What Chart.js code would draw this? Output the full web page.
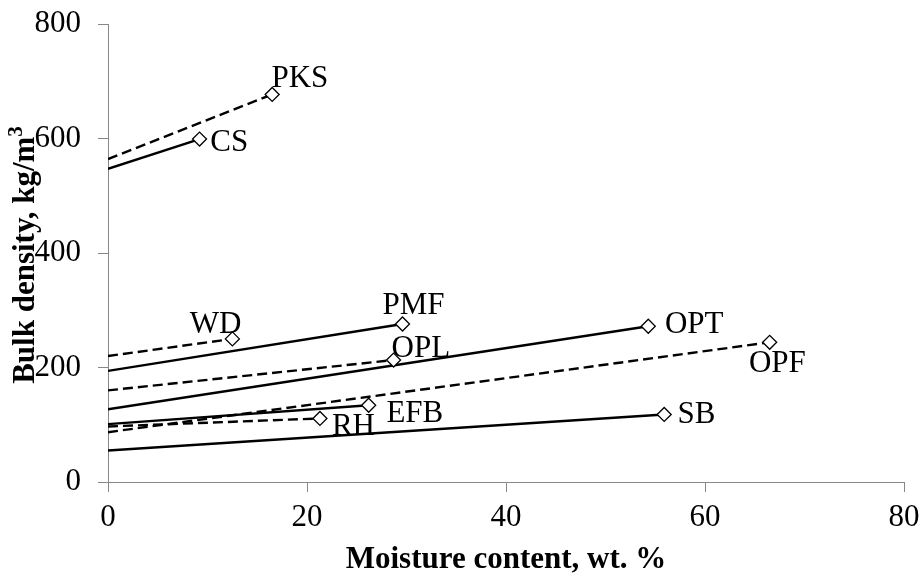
<!DOCTYPE html>
<html><head><meta charset="utf-8">
<script src="https://cdn.jsdelivr.net/npm/chart.js@4.4.1/dist/chart.umd.min.js"></script>
<style>html,body{margin:0;padding:0;background:#fff}canvas{display:block}</style>
</head><body>
<canvas id="c" width="920" height="575"></canvas>
<script>
// ---- data ----
const materials  = ['CS', 'PKS', 'WD', 'PMF', 'OPL', 'OPT', 'OPF', 'EFB', 'RH', 'SB'];
const moisture   = [9.2, 16.5, 12.5, 29.6, 28.7, 54.3, 66.5, 26.2, 21.3, 55.9];   // wt. %
const density    = [599, 677, 250, 276, 213, 272, 244, 134, 111, 118];          // kg/m3
const lineAtZero = [547, 564, 220, 194, 160, 127, 87, 101, 97, 55];             // trend value at 0 % moisture
const isDashed   = [false, true, true, false, true, false, true, false, true, false];
const xTickValues = [0, 20, 40, 60, 80];
const yTickValues = [0, 200, 400, 600, 800];
const xTitle = 'Moisture content, wt. %';
const yTitleMain = 'Bulk density, kg/m';
const yTitleSup = '3';
// label offsets (px) from each end marker: [dx, dy to baseline]
const labelOffsets = [[10.7, 11.7], [-0.7, -7.6], [-42.7, -6], [-20, -10], [-2, -3.3],
                      [16.7, 7], [-20.7, 29.7], [17.7, 16.4], [12, 16.5], [13.3, 8.4]];

const FONT = '"Liberation Serif", "Times New Roman", serif';
Chart.defaults.font.family = FONT;
Chart.defaults.color = '#000';

const datasets = materials.map((m, i) => ({
  label: m,
  data: [{x: 0, y: lineAtZero[i]}, {x: moisture[i], y: density[i]}],
  showLine: true,
  borderColor: '#000',
  borderWidth: 2.4,
  borderDash: isDashed[i] ? [10, 5] : [],
  pointStyle: 'rectRot',
  pointRadius: [0, 7],
  pointBackgroundColor: '#fff',
  pointBorderColor: '#000',
  pointBorderWidth: 1.3,
  fill: false
}));

const labelPlugin = {
  id: 'endLabels',
  afterDatasetsDraw(chart) {
    const ctx = chart.ctx;
    const xs = chart.scales.x, ys = chart.scales.y;
    ctx.save();
    ctx.font = '31px ' + FONT;
    ctx.fillStyle = '#000';
    ctx.textAlign = 'left';
    ctx.textBaseline = 'alphabetic';
    materials.forEach((m, i) => {
      const px = xs.getPixelForValue(moisture[i]) + labelOffsets[i][0];
      const py = ys.getPixelForValue(density[i]) + labelOffsets[i][1];
      ctx.fillText(m, px, py);
    });
    ctx.restore();
  }
};

const yTitlePlugin = {
  id: 'yTitle',
  afterDraw(chart) {
    const ctx = chart.ctx;
    const area = chart.chartArea;
    ctx.save();
    ctx.fillStyle = '#000';
    ctx.textBaseline = 'alphabetic';
    ctx.textAlign = 'left';
    const mainFont = 'bold 31px ' + FONT, supFont = 'bold 21px ' + FONT;
    ctx.font = mainFont; const w1 = ctx.measureText(yTitleMain).width;
    ctx.font = supFont;  const w2 = ctx.measureText(yTitleSup).width;
    const total = w1 + w2;
    ctx.translate(34, (area.top + area.bottom) / 2 + 2);
    ctx.rotate(-Math.PI / 2);
    ctx.font = mainFont; ctx.fillText(yTitleMain, -total / 2, 0);
    ctx.font = supFont;  ctx.fillText(yTitleSup, -total / 2 + w1, -12);
    ctx.restore();
  }
};

new Chart(document.getElementById('c'), {
  type: 'scatter',
  data: { datasets },
  options: {
    responsive: false,
    animation: false,
    devicePixelRatio: 1,
    layout: { padding: { top: 24, right: 16, left: 0, bottom: 0 } },
    plugins: { legend: { display: false }, tooltip: { enabled: false } },
    scales: {
      x: {
        type: 'linear',
        min: xTickValues[0], max: xTickValues[xTickValues.length - 1],
        ticks: { stepSize: xTickValues[1] - xTickValues[0], font: { size: 31 }, color: '#000', padding: 7 },
        grid: { drawOnChartArea: false, drawTicks: true, tickLength: 10, color: '#888' },
        border: { color: '#888', width: 1 },
        title: { display: true, text: xTitle, font: { size: 31, weight: 'bold', lineHeight: 1 }, padding: { top: 0, bottom: 0 }, color: '#000' },
        afterFit(s) { s.height = 93; s.paddingLeft = 0; s.paddingRight = 0; }
      },
      y: {
        type: 'linear',
        min: yTickValues[0], max: yTickValues[yTickValues.length - 1],
        ticks: { stepSize: yTickValues[1] - yTickValues[0], font: { size: 31 }, color: '#000', padding: 17 },
        grid: { drawOnChartArea: false, drawTicks: true, tickLength: 10, color: '#888' },
        border: { color: '#888', width: 1 },
        title: { display: false },
        afterFit(s) { s.width = 108; s.paddingTop = 0; s.paddingBottom = 0; }
      }
    }
  },
  plugins: [labelPlugin, yTitlePlugin]
});
</script>
</body></html>
